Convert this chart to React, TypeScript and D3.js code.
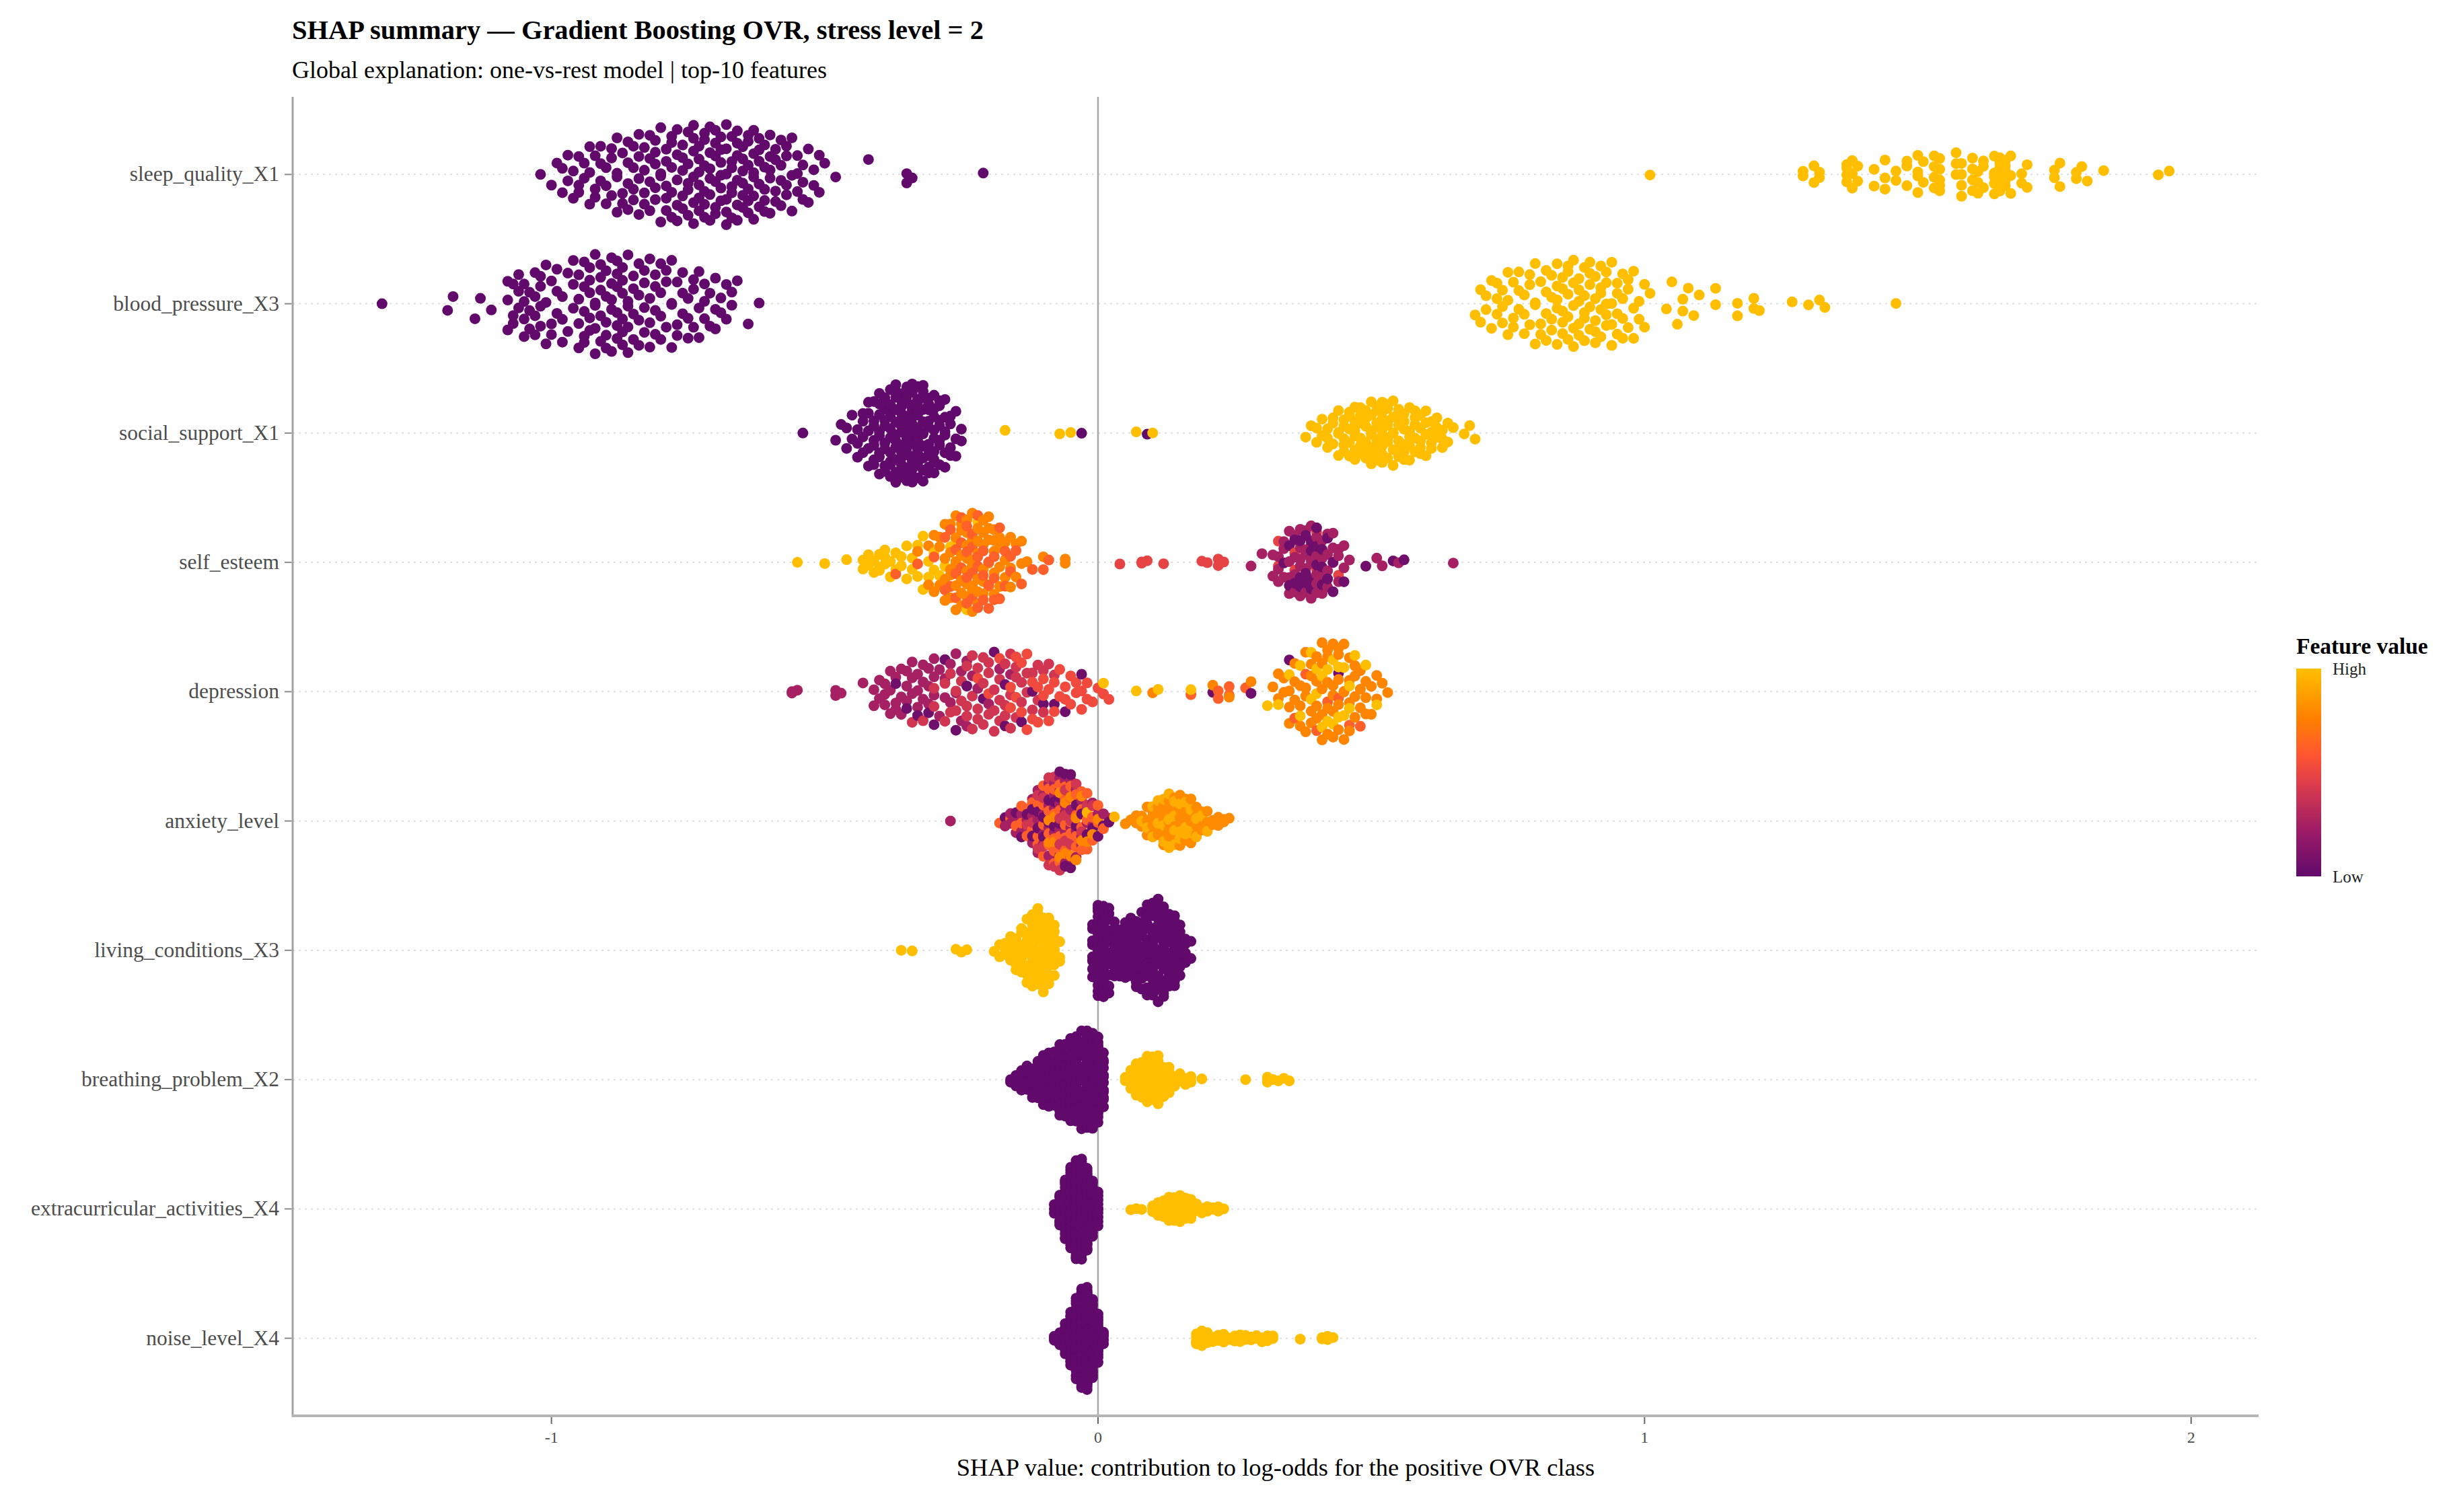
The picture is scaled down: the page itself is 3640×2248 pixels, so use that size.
import * as d3 from 'd3';
import React, { useEffect, useRef } from 'react';

// Values.
// One-hot features: [shap, count]; low = purple (0), high = yellow (1).
// Continuous features: [shap, feature value 0..1, count].

const sleepQualityLow = [
  [-1.02, 1], [-1.0, 1], [-0.99, 1], [-0.98, 2], [-0.97, 2], [-0.96, 2], [-0.95, 3], [-0.94, 2], [-0.93, 3],
  [-0.92, 3], [-0.91, 3], [-0.9, 3], [-0.89, 3], [-0.88, 4], [-0.87, 3], [-0.86, 4], [-0.85, 4], [-0.84, 4],
  [-0.83, 4], [-0.82, 4], [-0.81, 5], [-0.8, 4], [-0.79, 5], [-0.78, 5], [-0.77, 5], [-0.76, 5], [-0.75, 5],
  [-0.74, 6], [-0.73, 6], [-0.72, 6], [-0.71, 6], [-0.7, 6], [-0.69, 6], [-0.68, 6], [-0.67, 6], [-0.66, 6],
  [-0.65, 6], [-0.64, 6], [-0.63, 6], [-0.62, 5], [-0.61, 5], [-0.6, 5], [-0.59, 4], [-0.58, 4], [-0.57, 4],
  [-0.56, 3], [-0.55, 3], [-0.54, 3], [-0.53, 2], [-0.52, 2], [-0.51, 2], [-0.5, 1], [-0.48, 1], [-0.42, 1],
  [-0.35, 2], [-0.34, 1], [-0.21, 1],
];
const sleepQualityHigh = [
  [1.01, 1], [1.29, 2], [1.31, 2], [1.32, 2], [1.37, 4], [1.38, 3], [1.39, 2], [1.42, 2], [1.44, 3], [1.46, 2],
  [1.48, 3], [1.5, 4], [1.51, 2], [1.53, 4], [1.54, 5], [1.57, 3], [1.58, 4], [1.6, 4], [1.61, 3], [1.62, 3],
  [1.64, 5], [1.65, 6], [1.66, 5], [1.67, 3], [1.69, 2], [1.7, 2], [1.75, 2], [1.76, 2], [1.79, 2], [1.8, 1],
  [1.81, 1], [1.84, 1], [1.94, 1], [1.96, 1],
];

const bloodPressureLow = [
  [-1.31, 1], [-1.19, 1], [-1.18, 1], [-1.14, 1], [-1.13, 1], [-1.11, 1], [-1.08, 3], [-1.07, 3], [-1.06, 3],
  [-1.05, 4], [-1.04, 3], [-1.03, 4], [-1.02, 4], [-1.01, 3], [-1.0, 3], [-0.99, 3], [-0.98, 3], [-0.97, 2],
  [-0.96, 3], [-0.95, 4], [-0.94, 5], [-0.93, 5], [-0.92, 5], [-0.91, 5], [-0.9, 5], [-0.89, 5], [-0.88, 6],
  [-0.87, 6], [-0.86, 5], [-0.85, 4], [-0.84, 4], [-0.83, 4], [-0.82, 4], [-0.81, 4], [-0.8, 4], [-0.79, 3],
  [-0.78, 4], [-0.77, 3], [-0.76, 3], [-0.75, 3], [-0.74, 3], [-0.73, 3], [-0.72, 3], [-0.71, 2], [-0.7, 3],
  [-0.69, 2], [-0.68, 2], [-0.67, 2], [-0.66, 1], [-0.64, 1], [-0.62, 1],
];
const bloodPressureHigh = [
  [0.69, 1], [0.7, 2], [0.71, 2], [0.72, 2], [0.73, 3], [0.74, 3], [0.75, 3], [0.76, 3], [0.77, 3], [0.78, 3],
  [0.79, 3], [0.8, 4], [0.81, 3], [0.82, 4], [0.83, 4], [0.84, 5], [0.85, 5], [0.86, 5], [0.87, 5], [0.88, 5],
  [0.89, 5], [0.9, 5], [0.91, 5], [0.92, 5], [0.93, 5], [0.94, 4], [0.95, 4], [0.96, 4], [0.97, 3], [0.98, 3],
  [0.99, 2], [1.0, 2], [1.01, 1], [1.04, 1], [1.05, 1], [1.06, 1], [1.07, 2], [1.08, 1], [1.09, 1], [1.1, 1],
  [1.13, 2], [1.17, 2], [1.2, 2], [1.21, 1], [1.27, 1], [1.3, 1], [1.32, 1], [1.33, 1], [1.46, 1],
];

const socialSupportLow = [
  [-0.54, 1], [-0.48, 1], [-0.47, 1], [-0.46, 2], [-0.45, 2], [-0.44, 3], [-0.43, 4], [-0.42, 5], [-0.41, 7],
  [-0.4, 8], [-0.39, 9], [-0.38, 10], [-0.37, 11], [-0.36, 13], [-0.35, 14], [-0.34, 14], [-0.33, 13],
  [-0.32, 11], [-0.31, 10], [-0.3, 9], [-0.29, 7], [-0.28, 6], [-0.27, 4], [-0.26, 3], [-0.25, 2], [-0.03, 1],
  [0.09, 1],
];
const socialSupportHigh = [
  [-0.17, 1], [-0.07, 1], [-0.05, 1], [0.07, 1], [0.1, 1], [0.38, 1], [0.39, 1], [0.4, 2], [0.41, 2], [0.42, 3],
  [0.43, 3], [0.44, 4], [0.45, 5], [0.46, 5], [0.47, 6], [0.48, 6], [0.49, 6], [0.5, 7], [0.51, 8], [0.52, 8],
  [0.53, 7], [0.54, 6], [0.55, 6], [0.56, 6], [0.57, 5], [0.58, 5], [0.59, 5], [0.6, 4], [0.61, 4], [0.62, 3],
  [0.63, 3], [0.64, 2], [0.65, 1], [0.67, 1], [0.68, 1], [0.69, 1],
];

const selfEsteem = [
  [-0.55, 1, 1], [-0.5, 1, 1], [-0.46, 1, 1], [-0.43, 1, 2], [-0.42, 1, 2], [-0.41, 1, 2], [-0.4, 1, 3],
  [-0.39, 1, 3], [-0.38, 1, 2], [-0.37, 1, 2], [-0.36, 1, 2], [-0.35, 1, 2], [-0.34, 1, 2], [-0.33, 1, 2],
  [-0.32, 1, 2], [-0.31, 1, 2], [-0.3, 1, 2], [-0.29, 1, 1], [-0.28, 1, 1], [-0.27, 1, 1], [-0.26, 1, 1],
  [-0.24, 1, 1], [-0.22, 1, 1],
  [-0.33, 0.78, 1], [-0.31, 0.78, 2], [-0.3, 0.78, 2], [-0.29, 0.78, 3], [-0.28, 0.78, 4], [-0.27, 0.78, 5],
  [-0.26, 0.78, 6], [-0.25, 0.78, 6], [-0.24, 0.78, 7], [-0.23, 0.78, 7], [-0.22, 0.78, 6], [-0.21, 0.78, 6],
  [-0.2, 0.78, 5], [-0.19, 0.78, 5], [-0.18, 0.78, 4], [-0.17, 0.78, 3], [-0.16, 0.78, 3], [-0.15, 0.78, 2],
  [-0.14, 0.78, 2], [-0.13, 0.78, 1], [-0.1, 0.78, 1], [-0.06, 0.78, 2],
  [-0.37, 0.62, 1], [-0.33, 0.62, 1], [-0.3, 0.62, 1], [-0.28, 0.62, 2], [-0.27, 0.62, 2], [-0.26, 0.62, 3],
  [-0.25, 0.62, 3], [-0.24, 0.62, 4], [-0.23, 0.62, 4], [-0.22, 0.62, 4], [-0.21, 0.62, 3], [-0.2, 0.62, 3],
  [-0.19, 0.62, 3], [-0.18, 0.62, 2], [-0.17, 0.62, 2], [-0.16, 0.62, 2], [-0.15, 0.62, 1], [-0.14, 0.62, 1],
  [-0.12, 0.62, 1], [-0.1, 0.62, 1], [-0.09, 0.62, 1],
  [0.04, 0.48, 1], [0.08, 0.48, 2], [0.09, 0.48, 1], [0.12, 0.48, 1], [0.19, 0.48, 1], [0.2, 0.48, 1],
  [0.22, 0.48, 2], [0.23, 0.48, 1], [0.33, 0.48, 2], [0.36, 0.48, 2], [0.4, 0.48, 2], [0.44, 0.48, 1],
  [0.28, 0.25, 1], [0.3, 0.25, 1], [0.32, 0.25, 2], [0.33, 0.25, 3], [0.34, 0.25, 3], [0.35, 0.25, 4],
  [0.36, 0.25, 4], [0.37, 0.25, 5], [0.38, 0.25, 5], [0.39, 0.25, 5], [0.4, 0.25, 5], [0.41, 0.25, 4],
  [0.42, 0.25, 4], [0.43, 0.25, 3], [0.44, 0.25, 3], [0.45, 0.25, 2], [0.46, 0.25, 1], [0.51, 0.25, 1],
  [0.52, 0.25, 1], [0.55, 0.25, 1], [0.65, 0.25, 1],
  [0.34, 0.05, 1], [0.35, 0.05, 2], [0.36, 0.05, 2], [0.37, 0.05, 3], [0.38, 0.05, 3], [0.39, 0.05, 4],
  [0.4, 0.05, 3], [0.41, 0.05, 3], [0.42, 0.05, 2], [0.43, 0.05, 2], [0.45, 0.05, 1], [0.49, 0.05, 1],
  [0.54, 0.05, 1], [0.56, 0.05, 1],
];

const depression = [
  [-0.56, 0.25, 2], [-0.55, 0.25, 1], [-0.48, 0.25, 2], [-0.47, 0.25, 1], [-0.43, 0.25, 1], [-0.41, 0.25, 2],
  [-0.4, 0.25, 2], [-0.39, 0.25, 3], [-0.38, 0.25, 3], [-0.37, 0.25, 3], [-0.36, 0.25, 3], [-0.35, 0.25, 3],
  [-0.34, 0.25, 3], [-0.33, 0.25, 3], [-0.32, 0.25, 3], [-0.31, 0.25, 3], [-0.3, 0.25, 3], [-0.29, 0.25, 2],
  [-0.28, 0.25, 2], [-0.27, 0.25, 2], [-0.26, 0.25, 2], [-0.25, 0.25, 2], [-0.24, 0.25, 2], [-0.23, 0.25, 1],
  [-0.22, 0.25, 1], [-0.2, 0.25, 1], [-0.18, 0.25, 1], [-0.16, 0.25, 1],
  [-0.37, 0.05, 1], [-0.35, 0.05, 1], [-0.33, 0.05, 1], [-0.31, 0.05, 1], [-0.3, 0.05, 1], [-0.28, 0.05, 1],
  [-0.26, 0.05, 1], [-0.24, 0.05, 1], [-0.21, 0.05, 1], [-0.19, 0.05, 1], [-0.17, 0.05, 2], [-0.14, 0.05, 1],
  [-0.12, 0.05, 1], [-0.1, 0.05, 1], [-0.08, 0.05, 1], [-0.06, 0.05, 1], [-0.03, 0.05, 1], [0.21, 0.05, 1],
  [0.28, 0.05, 1], [0.35, 0.05, 1], [0.44, 0.05, 1],
  [-0.34, 0.4, 1], [-0.32, 0.4, 1], [-0.3, 0.4, 2], [-0.28, 0.4, 2], [-0.27, 0.4, 2], [-0.26, 0.4, 2],
  [-0.25, 0.4, 2], [-0.24, 0.4, 3], [-0.23, 0.4, 3], [-0.22, 0.4, 3], [-0.21, 0.4, 3], [-0.2, 0.4, 3],
  [-0.19, 0.4, 3], [-0.18, 0.4, 3], [-0.17, 0.4, 3], [-0.16, 0.4, 3], [-0.15, 0.4, 3], [-0.14, 0.4, 2],
  [-0.13, 0.4, 2], [-0.12, 0.4, 2], [-0.11, 0.4, 2], [-0.1, 0.4, 2], [-0.09, 0.4, 1], [-0.08, 0.4, 1],
  [-0.22, 0.52, 1], [-0.2, 0.52, 1], [-0.18, 0.52, 1], [-0.16, 0.52, 2], [-0.15, 0.52, 2], [-0.14, 0.52, 2],
  [-0.13, 0.52, 2], [-0.12, 0.52, 2], [-0.11, 0.52, 2], [-0.1, 0.52, 2], [-0.09, 0.52, 2], [-0.08, 0.52, 2],
  [-0.07, 0.52, 2], [-0.06, 0.52, 2], [-0.05, 0.52, 2], [-0.04, 0.52, 2], [-0.03, 0.52, 2], [-0.02, 0.52, 2],
  [-0.01, 0.52, 1], [0.0, 0.52, 1], [0.01, 0.52, 1], [0.02, 0.52, 1],
  [0.17, 0.62, 1], [0.22, 0.62, 2], [0.24, 0.62, 2], [0.27, 0.62, 1], [0.36, 0.62, 1], [0.38, 0.62, 1],
  [0.4, 0.62, 1], [0.42, 0.62, 1], [0.44, 0.62, 1], [0.46, 0.62, 1], [0.48, 0.62, 1],
  [0.1, 0.78, 1], [0.21, 0.78, 1], [0.24, 0.78, 1], [0.28, 0.78, 1], [0.32, 0.78, 1], [0.33, 0.78, 2],
  [0.34, 0.78, 2], [0.35, 0.78, 3], [0.36, 0.78, 3], [0.37, 0.78, 3], [0.38, 0.78, 4], [0.39, 0.78, 4],
  [0.4, 0.78, 4], [0.41, 0.78, 5], [0.42, 0.78, 5], [0.43, 0.78, 5], [0.44, 0.78, 5], [0.45, 0.78, 4],
  [0.46, 0.78, 4], [0.47, 0.78, 4], [0.48, 0.78, 3], [0.49, 0.78, 3], [0.5, 0.78, 2], [0.51, 0.78, 2],
  [0.52, 0.78, 1], [0.53, 0.78, 1],
  [0.01, 1, 1], [0.07, 1, 1], [0.11, 1, 1], [0.17, 1, 1], [0.31, 1, 1], [0.33, 1, 1], [0.35, 1, 1],
  [0.37, 1, 2], [0.39, 1, 2], [0.4, 1, 2], [0.41, 1, 2], [0.42, 1, 2], [0.43, 1, 2], [0.44, 1, 2],
  [0.45, 1, 2], [0.46, 1, 2], [0.47, 1, 1], [0.49, 1, 1], [0.51, 1, 1],
];

const anxietyLevel = [
  [-0.27, 0.25, 1], [-0.18, 0.62, 1], [-0.17, 0.05, 1], [-0.17, 0.25, 1], [-0.16, 0.62, 1], [-0.16, 0.25, 2],
  [-0.15, 0.25, 2], [-0.15, 0.62, 1], [-0.15, 0.05, 1], [-0.14, 0.25, 2], [-0.14, 0.62, 2], [-0.14, 0.05, 1],
  [-0.13, 0.25, 2], [-0.13, 0.62, 2], [-0.13, 0.05, 1], [-0.13, 0.4, 1],
  [-0.12, 0.25, 3], [-0.12, 0.62, 2], [-0.12, 0.05, 2], [-0.12, 0.4, 1],
  [-0.11, 0.25, 3], [-0.11, 0.62, 3], [-0.11, 0.05, 2], [-0.11, 0.4, 2],
  [-0.1, 0.25, 4], [-0.1, 0.62, 4], [-0.1, 0.05, 2], [-0.1, 0.4, 2],
  [-0.09, 0.25, 4], [-0.09, 0.62, 4], [-0.09, 0.05, 2], [-0.09, 0.4, 2], [-0.09, 0.78, 2],
  [-0.08, 0.25, 5], [-0.08, 0.62, 5], [-0.08, 0.05, 2], [-0.08, 0.4, 2], [-0.08, 0.78, 2],
  [-0.07, 0.25, 5], [-0.07, 0.62, 5], [-0.07, 0.05, 3], [-0.07, 0.4, 3], [-0.07, 0.78, 2],
  [-0.06, 0.25, 5], [-0.06, 0.62, 5], [-0.06, 0.05, 2], [-0.06, 0.4, 3], [-0.06, 0.78, 2],
  [-0.05, 0.25, 4], [-0.05, 0.62, 5], [-0.05, 0.05, 2], [-0.05, 0.4, 2], [-0.05, 0.78, 2],
  [-0.04, 0.25, 4], [-0.04, 0.62, 4], [-0.04, 0.05, 2], [-0.04, 0.4, 1], [-0.04, 0.78, 2],
  [-0.03, 0.25, 3], [-0.03, 0.62, 4], [-0.03, 0.05, 1], [-0.03, 0.4, 1], [-0.03, 0.78, 2],
  [-0.02, 0.25, 2], [-0.02, 0.62, 3], [-0.02, 0.05, 1], [-0.02, 0.4, 1], [-0.02, 0.78, 1], [-0.02, 0.95, 1],
  [-0.01, 0.25, 2], [-0.01, 0.62, 2], [-0.01, 0.05, 1], [-0.01, 0.4, 1], [-0.01, 0.78, 1],
  [0.0, 0.25, 1], [0.0, 0.62, 2], [0.0, 0.05, 1], [0.0, 0.78, 1],
  [0.01, 0.05, 1], [0.01, 0.25, 1], [0.01, 0.62, 1], [0.02, 0.25, 1], [0.02, 0.05, 1], [0.03, 0.95, 1],
  [0.05, 0.8, 1], [0.06, 0.8, 1], [0.07, 0.8, 2], [0.08, 0.8, 2], [0.08, 0.93, 1], [0.09, 0.8, 3],
  [0.09, 0.93, 1], [0.1, 0.8, 4], [0.1, 0.93, 2], [0.11, 0.8, 5], [0.11, 0.93, 2], [0.12, 0.8, 6],
  [0.12, 0.93, 3], [0.13, 0.8, 6], [0.13, 0.93, 3], [0.14, 0.8, 6], [0.14, 0.93, 4], [0.15, 0.8, 6],
  [0.15, 0.93, 3], [0.16, 0.8, 5], [0.16, 0.93, 3], [0.17, 0.8, 5], [0.17, 0.93, 2], [0.18, 0.8, 4],
  [0.18, 0.93, 2], [0.19, 0.8, 3], [0.19, 0.93, 1], [0.2, 0.8, 2], [0.2, 0.93, 1], [0.21, 0.8, 2],
  [0.22, 0.8, 2], [0.23, 0.8, 2], [0.24, 0.8, 1],
];

const livingConditionsLow = [
  [-0.01, 8], [0.0, 20], [0.01, 20], [0.02, 12], [0.03, 7], [0.04, 7], [0.05, 8], [0.06, 9], [0.07, 10],
  [0.08, 12], [0.09, 14], [0.1, 15], [0.11, 16], [0.12, 15], [0.13, 13], [0.14, 11], [0.15, 8], [0.16, 5],
  [0.17, 2],
];
const livingConditionsHigh = [
  [-0.36, 1], [-0.34, 1], [-0.26, 1], [-0.25, 1], [-0.24, 1], [-0.19, 1], [-0.18, 2], [-0.17, 3], [-0.16, 4],
  [-0.15, 6], [-0.14, 7], [-0.13, 9], [-0.12, 12], [-0.11, 14], [-0.1, 14], [-0.09, 12], [-0.08, 8], [-0.07, 3],
];

const breathingProblemLow = [
  [-0.16, 2], [-0.15, 3], [-0.14, 4], [-0.13, 6], [-0.12, 7], [-0.11, 8], [-0.1, 9], [-0.09, 11], [-0.08, 12],
  [-0.07, 13], [-0.06, 14], [-0.05, 16], [-0.04, 17], [-0.03, 18], [-0.02, 19], [-0.01, 20], [0.0, 21], [0.01, 12],
];
const breathingProblemHigh = [
  [0.05, 2], [0.06, 4], [0.07, 6], [0.08, 8], [0.09, 10], [0.1, 11], [0.11, 10], [0.12, 7], [0.13, 5], [0.14, 2],
  [0.15, 2], [0.16, 3], [0.17, 2], [0.19, 1], [0.27, 1], [0.31, 2], [0.32, 1], [0.33, 1], [0.34, 1], [0.35, 1],
];

const extracurricularLow = [
  [-0.08, 3], [-0.07, 10], [-0.06, 20], [-0.05, 30], [-0.04, 38], [-0.03, 38], [-0.02, 30], [-0.01, 20], [0.0, 10],
];
const extracurricularHigh = [
  [0.06, 1], [0.07, 1], [0.08, 1], [0.1, 3], [0.11, 5], [0.12, 6], [0.13, 8], [0.14, 10], [0.15, 11], [0.16, 9],
  [0.17, 6], [0.18, 3], [0.19, 3], [0.2, 2], [0.21, 2], [0.22, 2], [0.23, 1],
];

const noiseLevelLow = [
  [-0.08, 3], [-0.07, 5], [-0.06, 12], [-0.05, 20], [-0.04, 30], [-0.03, 38], [-0.02, 38], [-0.01, 30], [0.0, 18],
  [0.01, 5],
];
const noiseLevelHigh = [
  [0.18, 5], [0.19, 6], [0.2, 5], [0.21, 3], [0.22, 3], [0.23, 3], [0.24, 2], [0.25, 3], [0.26, 3], [0.27, 3],
  [0.28, 2], [0.29, 2], [0.3, 3], [0.31, 3], [0.32, 2], [0.37, 1], [0.41, 2], [0.42, 2], [0.43, 1],
];

const featureNames = [
  'sleep_quality_X1', 'blood_pressure_X3', 'social_support_X1', 'self_esteem', 'depression',
  'anxiety_level', 'living_conditions_X3', 'breathing_problem_X2', 'extracurricular_activities_X4', 'noise_level_X4',
];
const xTicks = [-1, 0, 1, 2];
const colorStops = [0, 0.2, 0.45, 0.58, 0.76, 1];
const colorRange = ['#610A6C', '#981A69', '#DE3D4B', '#FF5533', '#FF8000', '#FFBF00'];

type Triple = [number, number, number];

const oneHot = (low: number[][], high: number[][]): Triple[] => [
  ...low.map(([v, n]) => [v, 0, n] as Triple),
  ...high.map(([v, n]) => [v, 1, n] as Triple),
];

const rowData: Triple[][] = [
  oneHot(sleepQualityLow, sleepQualityHigh),
  oneHot(bloodPressureLow, bloodPressureHigh),
  oneHot(socialSupportLow, socialSupportHigh),
  selfEsteem as Triple[],
  depression as Triple[],
  anxietyLevel as Triple[],
  oneHot(livingConditionsLow, livingConditionsHigh),
  oneHot(breathingProblemLow, breathingProblemHigh),
  oneHot(extracurricularLow, extracurricularHigh),
  oneHot(noiseLevelLow, noiseLevelHigh),
];

// van der Corput sequence, base 2, starting at 1 (as in vipor)
function vdc(i: number) {
  let q = 0;
  let bk = 0.5;
  let k = i;
  while (k > 0) {
    q += (k % 2) * bk;
    k = Math.floor(k / 2);
    bk /= 2;
  }
  return q;
}

// quasirandom offsets like ggbeeswarm::geom_quasirandom (width 0.4, bandwidth 0.5)
function quasirandom(values: number[], width = 0.4, adjust = 0.5) {
  const n = values.length;
  const sorted = [...values].sort((a, b) => a - b);
  const sd = d3.deviation(values) ?? 0;
  const iqr = (d3.quantile(sorted, 0.75) ?? 0) - (d3.quantile(sorted, 0.25) ?? 0);
  let lo = Math.min(sd, iqr / 1.34);
  if (!(lo > 0)) lo = sd || 1;
  const bw = 0.9 * lo * Math.pow(n, -0.2) * adjust;
  const kde = (x: number) => d3.sum(values, v => Math.exp(-0.5 * ((x - v) / bw) ** 2));
  const g0 = sorted[0] - 3 * bw;
  const g1 = sorted[n - 1] + 3 * bw;
  const maxD = d3.max(d3.range(512), i => kde(g0 + ((g1 - g0) * i) / 511)) ?? 1;
  const order = d3.range(n).sort((a, b) => values[a] - values[b] || a - b);
  const out = new Array<number>(n);
  order.forEach((idx, r) => {
    out[idx] = (vdc(r + 1) - 0.5) * 2 * width * (kde(values[idx]) / maxD);
  });
  return out;
}

export default function App() {
  const ref = useRef<HTMLDivElement>(null);

  useEffect(() => {
    if (!ref.current) return;
    ref.current.innerHTML = '';

    const width = 3640;
    const height = 2248;
    const margin = { top: 144, right: 283, bottom: 143, left: 435 };
    const font = '"Liberation Serif", "Times New Roman", serif';

    // expand each row's triples into individual points
    const rows = rowData.map((triples, r) => {
      const pts: { v: number; f: number }[] = [];
      [...triples]
        .sort((a, b) => a[0] - b[0])
        .forEach(([v, f, n]) => {
          for (let i = 0; i < n; i++) pts.push({ v, f });
        });
      const off = quasirandom(pts.map(p => p.v));
      return pts.map((p, i) => ({ ...p, off: off[i], name: featureNames[r] }));
    });

    const allV = rows.flat().map(p => p.v);
    const [vMin, vMax] = d3.extent(allV) as [number, number];
    const pad = (vMax - vMin) * 0.05;

    const x = d3
      .scaleLinear()
      .domain([vMin - pad, vMax + pad])
      .range([margin.left, width - margin.right]);
    const y = d3
      .scalePoint()
      .domain(featureNames)
      .range([margin.top, height - margin.bottom])
      .padding(0.6);
    const step = y.step();
    const color = d3.scaleLinear<string>().domain(colorStops).range(colorRange).interpolate(d3.interpolateRgb);

    const svg = d3
      .select(ref.current)
      .append('svg')
      .attr('width', width)
      .attr('height', height)
      .style('position', 'absolute')
      .style('left', '0px')
      .style('top', '0px')
      .style('background', '#fff')
      .style('font-family', font);

    const x0 = margin.left;
    const x1 = width - margin.right;
    const y0 = margin.top;
    const y1 = height - margin.bottom;

    // dotted row guides
    svg
      .append('g')
      .selectAll('line')
      .data(featureNames)
      .enter()
      .append('line')
      .attr('x1', x0)
      .attr('x2', x1)
      .attr('y1', d => y(d)!)
      .attr('y2', d => y(d)!)
      .attr('stroke', '#dedede')
      .attr('stroke-width', 2)
      .attr('stroke-dasharray', '3 6');

    // zero line
    svg
      .append('line')
      .attr('x1', x(0))
      .attr('x2', x(0))
      .attr('y1', y0)
      .attr('y2', y1)
      .attr('stroke', '#a8a8a8')
      .attr('stroke-width', 2.5);

    // points
    svg
      .append('g')
      .selectAll('g')
      .data(rows)
      .enter()
      .append('g')
      .selectAll('circle')
      .data(d => d)
      .enter()
      .append('circle')
      .attr('cx', d => x(d.v))
      .attr('cy', d => y(d.name)! - d.off * step)
      .attr('r', 8)
      .attr('fill', d => color(d.f));

    // axes lines
    svg
      .append('line')
      .attr('x1', x0)
      .attr('x2', x0)
      .attr('y1', y0)
      .attr('y2', y1)
      .attr('stroke', '#a3a3a3')
      .attr('stroke-width', 3);
    svg
      .append('line')
      .attr('x1', x0 - 1.5)
      .attr('x2', x1)
      .attr('y1', y1)
      .attr('y2', y1)
      .attr('stroke', '#b5b5b5')
      .attr('stroke-width', 4);

    // y ticks + labels
    const yAxis = svg.append('g');
    yAxis
      .selectAll('line')
      .data(featureNames)
      .enter()
      .append('line')
      .attr('x1', x0 - 12)
      .attr('x2', x0 - 1.5)
      .attr('y1', d => y(d)!)
      .attr('y2', d => y(d)!)
      .attr('stroke', '#8a8a8a')
      .attr('stroke-width', 2);
    yAxis
      .selectAll('text')
      .data(featureNames)
      .enter()
      .append('text')
      .attr('x', x0 - 20)
      .attr('y', d => y(d)!)
      .attr('dy', '0.32em')
      .attr('text-anchor', 'end')
      .attr('font-size', 31.5)
      .attr('fill', '#4d4d4d')
      .text(d => d);

    // x ticks + labels
    const xAxis = svg.append('g');
    xAxis
      .selectAll('line')
      .data(xTicks)
      .enter()
      .append('line')
      .attr('x1', d => x(d))
      .attr('x2', d => x(d))
      .attr('y1', y1 + 2)
      .attr('y2', y1 + 12)
      .attr('stroke', '#666')
      .attr('stroke-width', 2);
    xAxis
      .selectAll('text')
      .data(xTicks)
      .enter()
      .append('text')
      .attr('x', d => x(d))
      .attr('y', y1 + 40)
      .attr('text-anchor', 'middle')
      .attr('font-size', 24)
      .attr('fill', '#4d4d4d')
      .text(d => String(d));

    // axis title
    svg
      .append('text')
      .attr('x', (x0 + x1) / 2)
      .attr('y', 2194)
      .attr('text-anchor', 'middle')
      .attr('font-size', 36.5)
      .attr('fill', '#000')
      .text('SHAP value: contribution to log-odds for the positive OVR class');

    // title + subtitle
    svg
      .append('text')
      .attr('x', x0 - 1)
      .attr('y', 58)
      .attr('font-size', 40.5)
      .attr('font-weight', 'bold')
      .attr('fill', '#000')
      .text('SHAP summary \u2014 Gradient Boosting OVR, stress level = 2');
    svg
      .append('text')
      .attr('x', x0 - 1)
      .attr('y', 116)
      .attr('font-size', 36)
      .attr('fill', '#000')
      .text('Global explanation: one-vs-rest model | top-10 features');

    // legend
    const lg = { x: 3413, y: 994, w: 37, h: 309 };
    const grad = svg
      .append('defs')
      .append('linearGradient')
      .attr('id', 'fv-grad')
      .attr('x1', 0)
      .attr('y1', 1)
      .attr('x2', 0)
      .attr('y2', 0);
    grad
      .selectAll('stop')
      .data(colorStops)
      .enter()
      .append('stop')
      .attr('offset', d => d)
      .attr('stop-color', (d, i) => colorRange[i]);
    svg
      .append('text')
      .attr('x', lg.x)
      .attr('y', 972)
      .attr('font-size', 33.5)
      .attr('font-weight', 'bold')
      .attr('fill', '#000')
      .text('Feature value');
    svg
      .append('rect')
      .attr('x', lg.x)
      .attr('y', lg.y)
      .attr('width', lg.w)
      .attr('height', lg.h)
      .attr('fill', 'url(#fv-grad)');
    svg
      .append('text')
      .attr('x', 3467)
      .attr('y', lg.y + 9)
      .attr('font-size', 25)
      .attr('fill', '#222')
      .text('High');
    svg
      .append('text')
      .attr('x', 3467)
      .attr('y', lg.y + lg.h + 9)
      .attr('font-size', 25)
      .attr('fill', '#222')
      .text('Low');
  }, []);

  return <div ref={ref}></div>;
}
